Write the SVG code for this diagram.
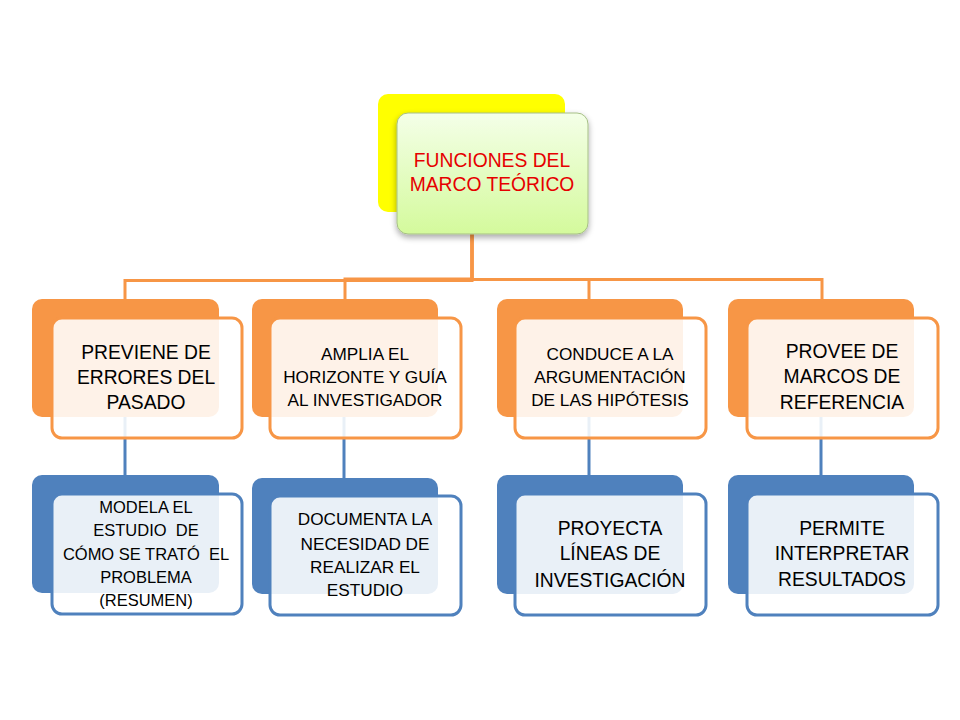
<svg xmlns="http://www.w3.org/2000/svg" width="960" height="720" viewBox="0 0 960 720">
<style>
.bo{fill:#F79646}
.bb{fill:#4F81BD}
.fo{fill:#FFFFFF;fill-opacity:0.88;stroke:#F79646;stroke-width:3}
.fb{fill:#FFFFFF;fill-opacity:0.88;stroke:#4F81BD;stroke-width:3}
.t{font-family:"Liberation Sans",Arial,sans-serif;fill:#000;text-anchor:middle}
.s19{font-size:19.3px}
.s17{font-size:17.2px}
.s16{font-size:16.5px}
.oc{fill:none;stroke:#F79646;stroke-width:3}
.bc{fill:none;stroke:#4F81BD;stroke-width:3}
</style>
<defs>
<linearGradient id="g" x1="0" y1="0" x2="0" y2="1">
<stop offset="0" stop-color="#F4FFE8"/>
<stop offset="1" stop-color="#D4FA9C"/>
</linearGradient>
<filter id="sh" x="-20%" y="-20%" width="140%" height="150%">
<feGaussianBlur in="SourceAlpha" stdDeviation="3"/>
<feOffset dx="0" dy="3" result="b"/>
<feComponentTransfer><feFuncA type="linear" slope="0.35"/></feComponentTransfer>
<feMerge><feMergeNode/><feMergeNode in="SourceGraphic"/></feMerge>
</filter>
</defs>
<rect width="960" height="720" fill="#FFFFFF"/>
<g id="connectors">
<path class="oc" d="M472,234 V280.5 H125 V299"/>
<path class="oc" d="M472,234 V279 H345 V299"/>
<path class="oc" d="M472,234 V279.5 H589 V299"/>
<path class="oc" d="M472,234 V279.5 H822 V299"/>
<path class="bc" d="M125,417 V476"/>
<path class="bc" d="M344,417 V478"/>
<path class="bc" d="M589,417 V476"/>
<path class="bc" d="M821,417 V476"/>
</g>
<g id="root">
<rect x="378" y="94" width="187" height="118" rx="10" fill="#FFFF00"/>
<rect x="397" y="113" width="191" height="121" rx="11" fill="url(#g)" stroke="#A6BF86" stroke-width="1" filter="url(#sh)"/>
<text class="t" font-size="19.3" style="fill:#E60000" x="492" y="167">FUNCIONES DEL</text>
<text class="t" font-size="19.3" style="fill:#E60000" x="492" y="191">MARCO TEÓRICO</text>
</g>
<g id="n1">
<rect class="bo" x="32" y="299" width="187" height="118" rx="10"/>
<rect class="fo" x="52" y="318" width="190" height="120" rx="10"/>
<text class="t s19" x="146" y="359">PREVIENE DE</text>
<text class="t s19" x="146" y="384">ERRORES DEL</text>
<text class="t s19" x="146" y="409">PASADO</text>
</g>
<g id="n2">
<rect class="bo" x="252" y="299" width="186" height="118" rx="10"/>
<rect class="fo" x="270" y="318" width="191" height="120" rx="10"/>
<text class="t s17" x="365" y="360">AMPLIA EL</text>
<text class="t s17" x="365" y="383">HORIZONTE Y GUÍA</text>
<text class="t s17" x="365" y="406">AL INVESTIGADOR</text>
</g>
<g id="n3">
<rect class="bo" x="497" y="299" width="186" height="118" rx="10"/>
<rect class="fo" x="515" y="318" width="191" height="120" rx="10"/>
<text class="t s17" x="610" y="360">CONDUCE A LA</text>
<text class="t s17" x="610" y="383">ARGUMENTACIÓN</text>
<text class="t s17" x="610" y="406">DE LAS HIPÓTESIS</text>
</g>
<g id="n4">
<rect class="bo" x="728" y="299" width="186" height="118" rx="10"/>
<rect class="fo" x="747" y="318" width="191" height="120" rx="10"/>
<text class="t s19" x="842" y="358">PROVEE DE</text>
<text class="t s19" x="842" y="383">MARCOS DE</text>
<text class="t s19" x="842" y="409">REFERENCIA</text>
</g>
<g id="n5">
<rect class="bb" x="32" y="475" width="187" height="118" rx="10"/>
<rect class="fb" x="52" y="494" width="190" height="120" rx="10"/>
<text class="t s16" x="146" y="513">MODELA EL</text>
<text class="t s16" x="146" y="536" xml:space="preserve">ESTUDIO  DE</text>
<text class="t s16" x="146" y="560" xml:space="preserve">CÓMO SE TRATÓ  EL</text>
<text class="t s16" x="146" y="583">PROBLEMA</text>
<text class="t s16" x="146" y="606">(RESUMEN)</text>
</g>
<g id="n6">
<rect class="bb" x="252" y="478" width="186" height="116" rx="10"/>
<rect class="fb" x="270" y="496" width="191" height="119" rx="10"/>
<text class="t s17" x="365" y="525">DOCUMENTA LA</text>
<text class="t s17" x="365" y="550">NECESIDAD DE</text>
<text class="t s17" x="365" y="573">REALIZAR EL</text>
<text class="t s17" x="365" y="596">ESTUDIO</text>
</g>
<g id="n7">
<rect class="bb" x="497" y="475" width="186" height="119" rx="10"/>
<rect class="fb" x="515" y="494" width="191" height="121" rx="10"/>
<text class="t s19" x="610" y="535">PROYECTA</text>
<text class="t s19" x="610" y="560">LÍNEAS DE</text>
<text class="t s19" x="610" y="587">INVESTIGACIÓN</text>
</g>
<g id="n8">
<rect class="bb" x="728" y="475" width="186" height="119" rx="10"/>
<rect class="fb" x="747" y="494" width="191" height="121" rx="10"/>
<text class="t s19" x="842" y="535">PERMITE</text>
<text class="t s19" x="842" y="560">INTERPRETAR</text>
<text class="t s19" x="842" y="586">RESULTADOS</text>
</g>
</svg>
